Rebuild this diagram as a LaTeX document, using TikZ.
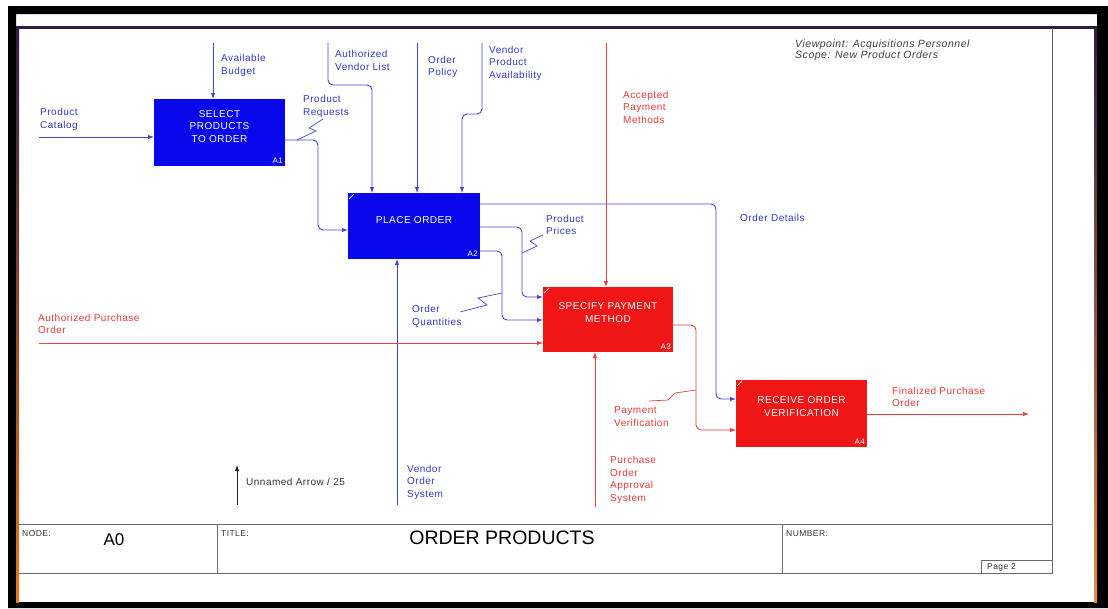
\documentclass[tikz,border=0pt]{standalone}
\usepackage{fontspec}
\setmainfont{Liberation Sans}
\newfontfamily\spacedsans[LetterSpace=5]{Liberation Sans}
\usetikzlibrary{arrows.meta,calc}
\definecolor{boxblue}{RGB}{8,8,235}
\definecolor{boxred}{RGB}{240,22,22}
\definecolor{lineblue}{RGB}{70,70,210}
\definecolor{linered}{RGB}{236,64,64}
\definecolor{textblue}{RGB}{55,55,195}
\definecolor{textred}{RGB}{228,58,58}
\definecolor{framegray}{RGB}{105,105,105}
\definecolor{framedark}{RGB}{45,30,70}
\begin{document}
\begin{tikzpicture}[x=1pt,y=-1pt,
  actbox/.style={inner sep=0pt, outer sep=0pt, minimum width=#1, minimum height=66pt},
  bact/.style={actbox=#1, fill=boxblue},
  ract/.style={actbox=#1, fill=boxred},
  acttext/.style={text=white, font=\spacedsans\fontsize{10}{12.5}\selectfont, align=center, inner sep=0pt},
  actnum/.style={text=white, font=\spacedsans\fontsize{8}{9}\selectfont, inner sep=2pt, anchor=south east},
  lbl/.style={font=\spacedsans\fontsize{10}{12.5}\selectfont, align=left, inner sep=0pt, anchor=west},
  blbl/.style={lbl, text=textblue},
  rlbl/.style={lbl, text=textred},
  barrow/.style={draw=lineblue, line width=0.9pt, rounded corners=5pt, -{Latex[length=6pt,width=4.5pt]}},
  rarrow/.style={draw=linered, line width=0.9pt, rounded corners=5pt, -{Latex[length=6pt,width=4.5pt]}},
  bsquig/.style={draw=lineblue, line width=0.7pt},
  rsquig/.style={draw=linered, line width=0.7pt},
  tb/.style={font=\spacedsans\fontsize{8.5}{10}\selectfont, text=black!80, inner sep=0pt, anchor=west},
  frameline/.style={draw=framegray, line width=1pt}
]
\useasboundingbox (0,0) rectangle (1108,608);
\fill[white] (0,0) rectangle (1108,608);
% outer black frame
\fill[black, even odd rule] (8,6) rectangle (1108,608) (16,14) rectangle (1097,602);
\fill[framedark] (16,26) rectangle (1097,29);
\shade[top color=framedark, middle color={rgb,255:red,150;green,40;blue,60}, bottom color={rgb,255:red,235;green,120;blue,30}] (16,27) rectangle (19,602);
\shade[top color=framedark, middle color={rgb,255:red,150;green,40;blue,60}, bottom color={rgb,255:red,235;green,140;blue,60}] (1094,27) rectangle (1097,602);
% page frame and title block
\draw[frameline] (1052,28) -- (1052,573) -- (19,573);
\draw[frameline] (19,524) -- (1052,524);
\draw[frameline] (217,524) -- (217,573);
\draw[frameline] (782,524) -- (782,573);
\draw[frameline] (981,573) -- (981,560) -- (1052,560);
\node[tb] (nodelbl) at (22,534) {NODE:};
\node[font=\fontsize{17}{19}\selectfont, inner sep=0pt] (nodeval) at (114,540) {A0};
\node[tb] (titlelbl) at (221,534) {TITLE:};
\node[font=\fontsize{19.5}{21}\selectfont, inner sep=0pt] (title) at (502,538) {ORDER PRODUCTS};
\node[tb] (numlbl) at (786,534) {NUMBER:};
\node[tb] (page) at (987,567) {Page 2};
% viewpoint
\node[lbl, font=\spacedsans\fontsize{10.5}{11.5}\selectfont\itshape, text=black!75] (vp) at (795,50.5) {Viewpoint: Acquisitions Personnel\\Scope: New Product Orders};

% activity boxes
\node[bact=131pt, minimum height=67pt] (a1) at (219.5,132.5) {};
\node[bact=132pt] (a2) at (414,226) {};
\node[ract=130pt, minimum height=65pt] (a3) at (608,319.5) {};
\node[ract=131pt, minimum height=67pt] (a4) at (801.5,413.5) {};
\node[acttext] (a1t) at ($(a1.center)+(0,-6)$) {SELECT\\PRODUCTS\\TO ORDER};
\node[acttext] (a2t) at ($(a2.center)+(0,-6)$) {PLACE ORDER};
\node[acttext] (a3t) at ($(a3.center)+(0,-7)$) {SPECIFY PAYMENT\\METHOD};
\node[acttext] (a4t) at ($(a4.center)+(0,-7)$) {RECEIVE ORDER\\VERIFICATION};
\node[actnum] (a1n) at (a1.south east) {A1};
\node[actnum] (a2n) at (a2.south east) {A2};
\node[actnum] (a3n) at (a3.south east) {A3};
\node[actnum] (a4n) at (a4.south east) {A4};
\foreach \b in {a2,a3,a4}{
  \draw[white!80!gray, line width=0.8pt] ($(\b.north west)+(1,6)$) -- ($(\b.north west)+(6,1)$);
}

% free ends
\coordinate (budget) at (213,43);
\coordinate (catalog) at (39,137);
\coordinate (avl) at (328,43);
\coordinate (policy) at (417,43);
\coordinate (vpa) at (482,43);
\coordinate (apm) at (606,43);
\coordinate (apo) at (39,343);
\coordinate (vos) at (397,505);
\coordinate (poas) at (595,507);
\coordinate (fpo) at (1029,414);
\coordinate (unnamed) at (237,505);

% arrows
\draw[barrow] (budget) -- (budget |- a1.north);
\draw[barrow] (catalog) -- (catalog -| a1.west);
\draw[barrow] (a1.east |- 0,140) -- (318,140) -- (318,230) -- (a2.west |- 0,230);
\draw[barrow] (avl) -- (328,85) -- (372,85) -- (a2.north -| 372,0);
\draw[barrow] (policy) -- (policy |- a2.north);
\draw[barrow] (vpa) -- (482,114) -- (462,114) -- (a2.north -| 462,0);
\draw[barrow] (a2.east |- 0,204) -- (716,204) -- (716,399) -- (a4.west |- 0,399);
\draw[barrow] (a2.east |- 0,227) -- (522,227) -- (522,297) -- (a3.west |- 0,297);
\draw[barrow] (a2.east |- 0,251) -- (502,251) -- (502,320) -- (a3.west |- 0,320);
\draw[barrow] (vos) -- (vos |- a2.south);
\draw[rarrow] (apm) -- (apm |- a3.north);
\draw[rarrow] (apo) -- (apo -| a3.west);
\draw[rarrow] (poas) -- (poas |- a3.south);
\draw[rarrow] (a3.east |- 0,325) -- (696,325) -- (696,430) -- (a4.west |- 0,430);
\draw[rarrow] (a4.east |- fpo) -- (fpo);
\draw[black!85, line width=0.9pt, -{Latex[length=6pt,width=4.5pt]}] (unnamed) -- (237,465);

% squiggles
\draw[bsquig] (323,119) -- (309,128) -- (316,131) -- (297,140);
\draw[bsquig] (543,235) -- (530,241) -- (537,246) -- (522,253);
\draw[bsquig] (460,312) -- (487,305) -- (478,298) -- (502,293);
\draw[rsquig] (649,401) -- (668,400) -- (675,393) -- (696,390);

% labels
\node[blbl] (lbudget) at (221,65.5) {Available\\Budget};
\node[blbl] (lcatalog) at (40,119.5) {Product\\Catalog};
\node[blbl] (lreq) at (303,106.5) {Product\\Requests};
\node[blbl] (lavl) at (335,60.5) {Authorized\\Vendor List};
\node[blbl] (lpolicy) at (428,67) {Order\\Policy};
\node[blbl] (lvpa) at (489,63) {Vendor\\Product\\Availability};
\node[blbl] (ldetails) at (740,218) {Order Details};
\node[blbl] (lprices) at (546,225) {Product\\Prices};
\node[blbl] (lqty) at (412,316.5) {Order\\Quantities};
\node[blbl] (lvos) at (407,482) {Vendor\\Order\\System};
\node[rlbl] (lapm) at (623,107) {Accepted\\Payment\\Methods};
\node[rlbl] (lapo) at (38,324) {Authorized Purchase\\Order};
\node[rlbl] (lpoas) at (610,480) {Purchase\\Order\\Approval\\System};
\node[rlbl] (lpv) at (614,416.5) {Payment\\Verification};
\node[rlbl] (lfpo) at (892,397) {Finalized Purchase\\Order};
\node[lbl, text=black!80] (lunnamed) at (246,482) {Unnamed Arrow / 25};
\end{tikzpicture}
\end{document}
